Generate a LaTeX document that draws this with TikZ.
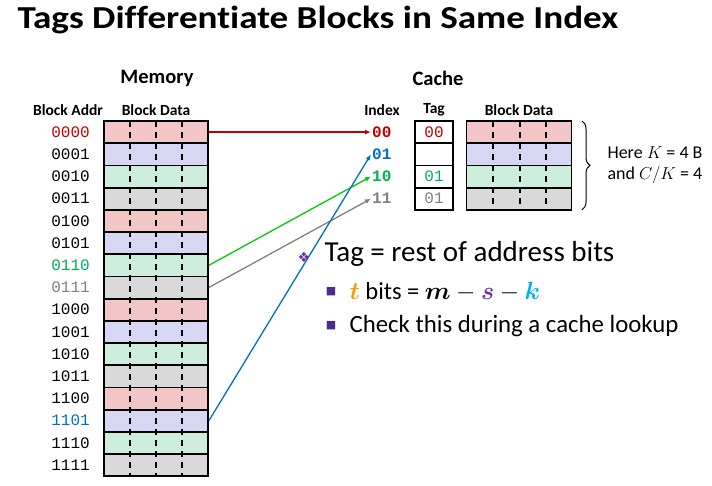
\documentclass[tikz,border=0pt]{standalone}
\usepackage{amssymb}
\usepackage{amsmath}
\usepackage{fontspec}
\setmainfont{Carlito}[Ligatures=NoCommon]
\newfontfamily\titlefont{Carlito}[Ligatures=NoCommon, FakeStretch=1.16]
\newfontfamily\monofont{Liberation Mono}
\newfontfamily\symfont{DejaVu Sans}
\usetikzlibrary{arrows.meta,decorations.pathreplacing}

\definecolor{blkred}{HTML}{F2C6C6}
\definecolor{blkblue}{HTML}{D7D7F3}
\definecolor{blkgreen}{HTML}{CDEEDD}
\definecolor{blkgray}{HTML}{D9D9D9}
\definecolor{addrred}{HTML}{C00000}
\definecolor{addrblue}{HTML}{0070C0}
\definecolor{addrgreen}{HTML}{00B050}
\definecolor{addrgray}{HTML}{808080}
\definecolor{linegreen}{HTML}{00CC00}
\definecolor{bulletpurple}{HTML}{4B2C8C}
\definecolor{spurple}{HTML}{7030A0}
\definecolor{torange}{HTML}{FF9900}
\definecolor{kcyan}{HTML}{00B0F0}

\tikzset{
  block/.style={draw, line width=1.8pt, minimum width=104pt, minimum height=22.2pt, inner sep=0pt},
  tagbox/.style={draw, line width=1.8pt, minimum width=38pt, minimum height=22.2pt, inner sep=0pt, font=\monofont\fontsize{16}{16}\selectfont},
  addr/.style={anchor=east, inner sep=0pt, font=\monofont\fontsize{16}{16}\selectfont},
  idx/.style={anchor=west, inner sep=1pt, font=\monofont\bfseries\fontsize{16}{16}\selectfont},
  head/.style={font=\bfseries\fontsize{15.5}{15.5}\selectfont},
  bighead/.style={font=\bfseries\fontsize{20.5}{20.5}\selectfont},
  divider/.style={line width=1.8pt, dash pattern=on 6pt off 5pt},
  link/.style={-{Latex[length=6pt,width=5pt]}, line width=1.3pt},
}

\begin{document}
\begin{tikzpicture}[x=1pt, y=-1pt]
\useasboundingbox (0,0) rectangle (712,485);

\node[anchor=west, font=\titlefont\bfseries\fontsize{32}{32}\selectfont] (title) at (14,20) {Tags Differentiate Blocks in Same Index};

% memory
\node[bighead] (memtitle) at (157,78) {Memory};
\node[head] (addrhead) at (68,110) {Block Addr};
\node[head] (datahead) at (156,110) {Block Data};
\foreach \i/\a/\c/\t in {0/0000/blkred/addrred, 1/0001/blkblue/black, 2/0010/blkgreen/black, 3/0011/blkgray/black,
    4/0100/blkred/black, 5/0101/blkblue/black, 6/0110/blkgreen/addrgreen, 7/0111/blkgray/addrgray,
    8/1000/blkred/black, 9/1001/blkblue/black, 10/1010/blkgreen/black, 11/1011/blkgray/black,
    12/1100/blkred/black, 13/1101/blkblue/addrblue, 14/1110/blkgreen/black, 15/1111/blkgray/black}
{
  \node[block, fill=\c] (mem\i) at (156, {132.1+22.2*\i}) {};
  \node[addr, text=\t] (addr\i) at (90, {132.1+22.2*\i}) {\a};
}
\foreach \x in {130,156,182}
  \draw[divider] (\x,121) -- (\x,476.2);

% cache
\node[bighead] (cachetitle) at (438,78) {Cache};
\node[head] (idxhead) at (382,110) {Index};
\node[head] (taghead) at (434,110) {Tag};
\node[head] (linehead) at (519,110) {Block Data};
\foreach \i/\ix/\ic/\c/\tg/\tc in {0/00/addrred/blkred/00/addrred, 1/01/addrblue/blkblue//black,
    2/10/addrgreen/blkgreen/01/addrgreen, 3/11/addrgray/blkgray/01/addrgray}
{
  \node[idx, text=\ic] (idx\i) at (371, {132.1+22.2*\i}) {\ix};
  \node[tagbox, text=\tc] (tag\i) at (434, {132.1+22.2*\i}) {\tg};
  \node[block, minimum width=105pt, fill=\c] (line\i) at (519, {132.1+22.2*\i}) {};
}
\foreach \x in {493,520,546}
  \draw[divider] (\x,121) -- (\x,209.8);

\draw[decorate, decoration={brace, amplitude=8pt}, line width=1pt] (582,121) -- (582,209.8);
\node[anchor=west, align=left, font=\fontsize{18}{20.5}\selectfont] (note) at (604,165) {Here $K$ = 4 B\\and $C/K$ = 4};

% mapping
\draw[link, addrred] (mem0.east) -- (idx0.west);
\draw[link, linegreen] (mem6.east) -- (idx2.west);
\draw[link, addrgray] (mem7.east) -- (idx3.west);
\draw[link, addrblue] (mem13.east) -- (idx1.west);

% bullets
\node[text=spurple, font=\symfont\fontsize{14}{14}\selectfont] (dia) at (304,257) {❖};
\node[anchor=west, font=\fontsize{29}{29}\selectfont] (bul1) at (321,254) {Tag = rest of address bits};
\node[text=bulletpurple, font=\symfont\fontsize{11}{11}\selectfont] (sq1) at (331,292) {■};
\node[anchor=west, font=\fontsize{24.5}{24.5}\selectfont] (bul2) at (346,292)
  {$\boldsymbol{\color{torange}t}$ bits = $\boldsymbol{m}-\boldsymbol{\color{spurple}s}-\boldsymbol{\color{kcyan}k}$};
\node[text=bulletpurple, font=\symfont\fontsize{11}{11}\selectfont] (sq2) at (331,326) {■};
\node[anchor=west, font=\fontsize{24.8}{24.8}\selectfont] (bul3) at (346,326) {Check this during a cache lookup};

\end{tikzpicture}
\end{document}
